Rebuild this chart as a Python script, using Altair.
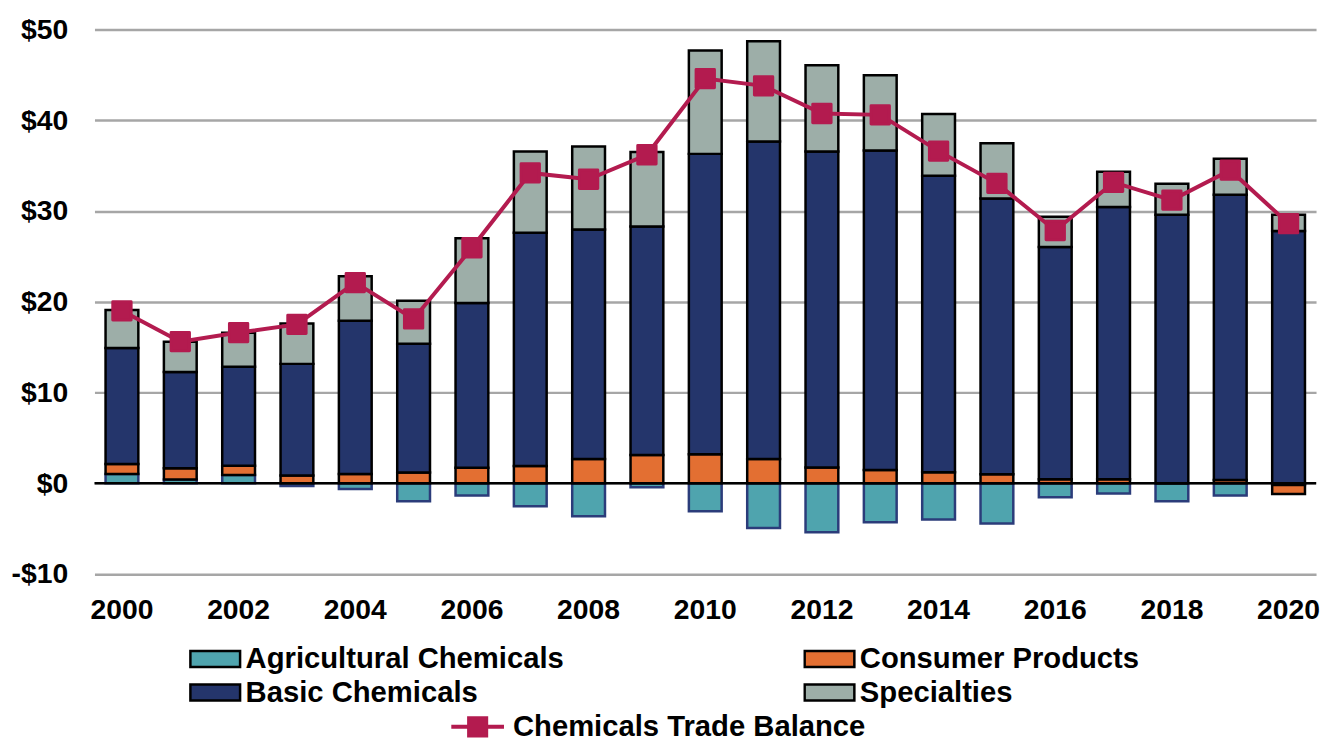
import altair as alt
import pandas as pd

years = list(range(2000, 2021))
agricultural = [1.0, 0.4, 0.9, -0.3, -0.65, -2.0, -1.35, -2.55, -3.65, -0.45, -3.1,
                -4.95, -5.4, -4.3, -4.0, -4.45, -1.55, -1.15, -2.0, -1.35, -0.2]
consumer = [1.1, 1.25, 1.03, 0.85, 1.0, 1.17, 1.71, 1.9, 2.66, 3.1, 3.2,
            2.67, 1.72, 1.46, 1.2, 0.98, 0.43, 0.43, 0.0, 0.35, -1.0]
basic = [12.8, 10.6, 10.9, 12.3, 16.9, 14.2, 18.15, 25.7, 25.3, 25.2, 33.1,
         35.0, 34.85, 35.2, 32.7, 30.4, 25.6, 30.0, 29.6, 31.45, 27.8]
specialties = [4.2, 3.35, 3.75, 4.45, 4.9, 4.75, 7.15, 8.95, 9.15, 8.2, 11.4,
               11.05, 9.5, 8.3, 6.8, 6.1, 3.35, 3.9, 3.4, 3.95, 1.8]
balance = [19.0, 15.6, 16.6, 17.5, 22.1, 18.1, 25.95, 34.2, 33.5, 36.2, 44.6,
           43.8, 40.75, 40.6, 36.6, 33.05, 27.85, 33.15, 31.2, 34.5, 28.6]

series_names = ["Agricultural Chemicals", "Consumer Products", "Basic Chemicals", "Specialties"]
series_colors = ["#4FA4AE", "#E36F32", "#24356B", "#9DAEA8"]
line_name = "Chemicals Trade Balance"
crimson = "#B31B4F"

rows = []
for i, y in enumerate(years):
    for k, (name, vals) in enumerate(zip(series_names, [agricultural, consumer, basic, specialties])):
        rows.append({"year": y, "series": name, "idx": k, "value": vals[i]})
bars_df = pd.DataFrame(rows)
line_df = pd.DataFrame({"year": years, "balance": balance, "name": [line_name] * len(years)})
zero_df = pd.DataFrame({"v": [0]})

x_enc = alt.X(
    "year:O",
    scale=alt.Scale(paddingInner=0.438, paddingOuter=0.19),
    axis=alt.Axis(
        title=None, labelAngle=0, ticks=False, domain=False, grid=False,
        labelExpr="toNumber(datum.value) % 2 == 0 ? datum.label : ''",
        labelPadding=22,
    ),
)
y_scale = alt.Scale(domain=[-10, 50], nice=False)
y_axis = alt.Axis(
    title=None, values=[-10, 0, 10, 20, 30, 40, 50], grid=True, domain=False, ticks=False,
    labelExpr="datum.value < 0 ? '-$' + abs(datum.value) : '$' + datum.value",
    labelPadding=27, gridColor="#A6A6A6", gridWidth=2.5,
)

bars = alt.Chart(bars_df).mark_bar(strokeWidth=2.5).encode(
    x=x_enc,
    y=alt.Y("value:Q", stack="zero", scale=y_scale, axis=y_axis),
    color=alt.Color(
        "series:N",
        scale=alt.Scale(domain=series_names, range=series_colors),
        legend=alt.Legend(
            title=None, orient="none", direction="horizontal", legendX=95, legendY=619,
            columns=2, columnPadding=240, rowPadding=4, clipHeight=28, padding=0,
            symbolType="M-1,-0.32H1V0.32H-1Z", symbolSize=2500,
            symbolStrokeColor="black", symbolStrokeWidth=2.5, labelOffset=4,
        ),
    ),
    order=alt.Order("idx:Q"),
    stroke=alt.condition("datum.series === 'Agricultural Chemicals'", alt.value("#2B3C7A"), alt.value("black")),
)

zero_rule = alt.Chart(zero_df).mark_rule(color="black", strokeWidth=2.5).encode(
    y=alt.Y("v:Q", scale=y_scale, axis=y_axis)
)

line = alt.Chart(line_df).mark_line(color=crimson, strokeWidth=4).encode(
    x=x_enc,
    y=alt.Y("balance:Q", scale=y_scale, axis=y_axis),
)

points = alt.Chart(line_df).mark_point(shape="square", filled=True, size=340, opacity=1,
                                        strokeWidth=3, strokeJoin="round").encode(
    x=x_enc,
    y=alt.Y("balance:Q", scale=y_scale, axis=y_axis),
    fill=alt.Fill(
        "name:N",
        scale=alt.Scale(domain=[line_name], range=[crimson]),
        legend=alt.Legend(
            title=None, orient="none", legendX=359, legendY=675, padding=0,
            symbolType="M-1,-0.075H1V0.075H-1Z M-0.4,-0.4H0.4V0.4H-0.4Z", symbolSize=2809,
            symbolStrokeColor=crimson, symbolStrokeWidth=0, labelOffset=9,
        ),
    ),
    stroke=alt.value(crimson),
)

chart = alt.layer(bars, zero_rule, line, points).properties(
    width=1229, height=547.6,
    autosize=alt.AutoSizeParams(type="none"),
    padding={"left": 87, "top": 19.5, "right": 8, "bottom": 162.9},
).configure_view(stroke=None).configure_axis(
    labelFont="Liberation Sans", labelFontSize=28.5, labelFontWeight="bold", labelColor="black",
).configure_legend(
    labelFont="Liberation Sans", labelFontSize=29.4, labelFontWeight="bold", labelColor="black",
    labelLimit=0,
)

chart.save("out.html", embed_options={"renderer": "svg", "actions": False})
